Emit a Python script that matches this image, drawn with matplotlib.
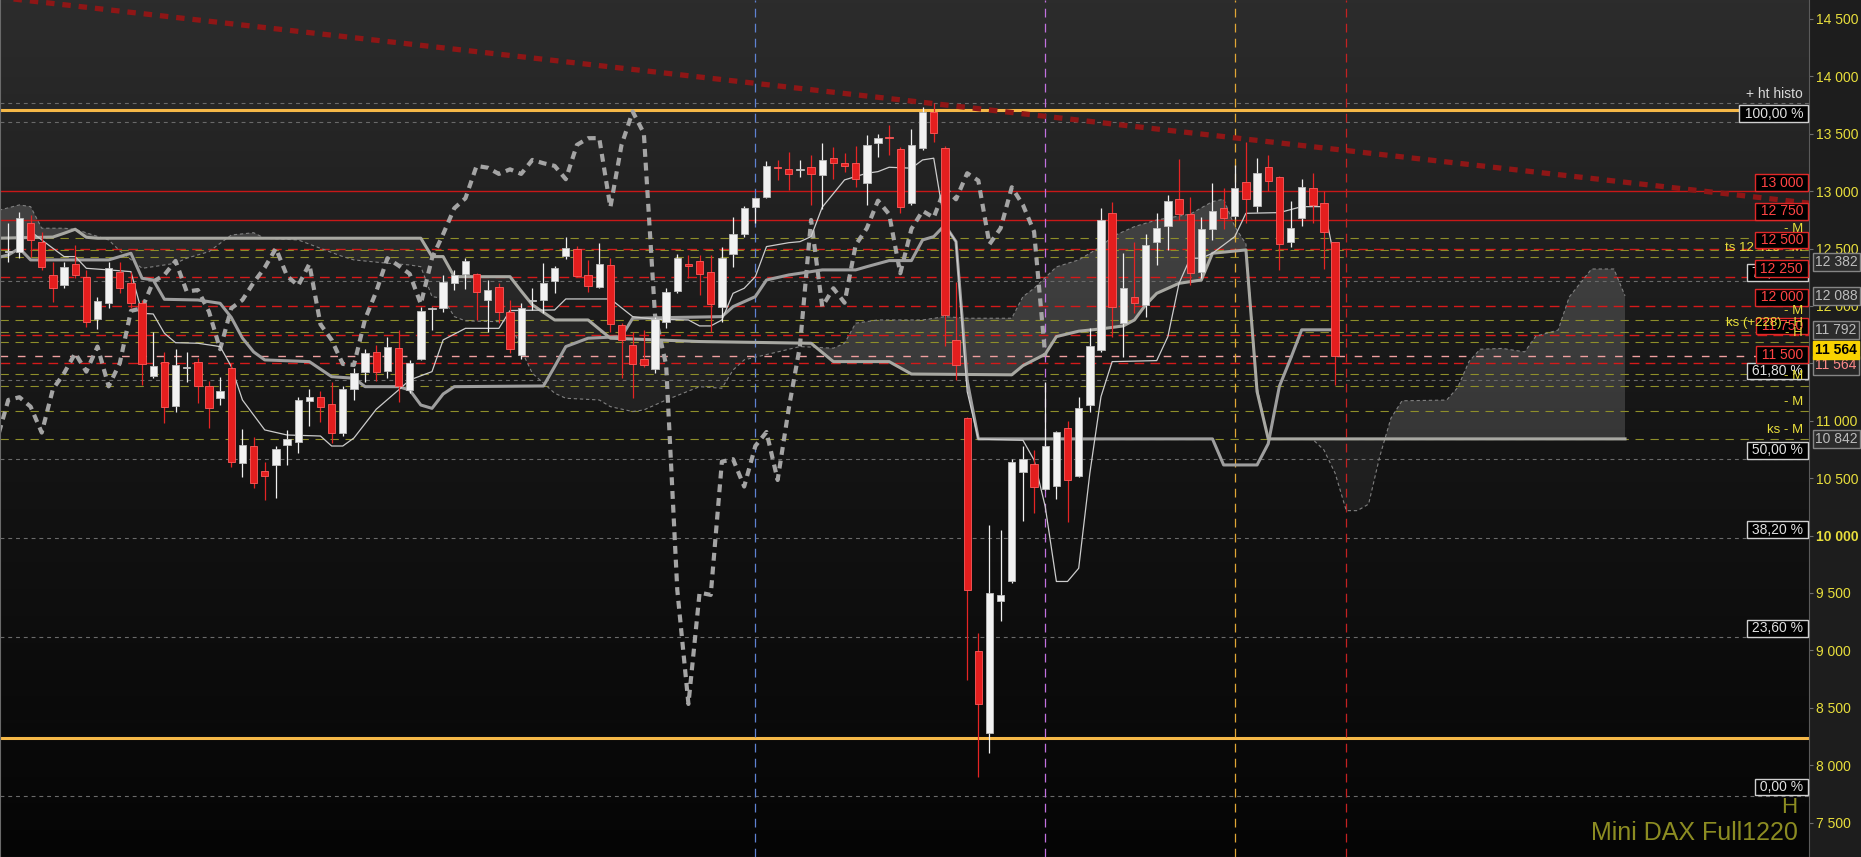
import matplotlib
matplotlib.use("Agg")
import matplotlib.pyplot as plt
import numpy as np
from matplotlib.colors import LinearSegmentedColormap

plt.rcParams["font.family"] = ["Liberation Sans", "DejaVu Sans"]

# weekly candles, index 0 = first week shown
opens = [12470, 12474, 12720, 12560, 12270, 12183, 12365, 12255, 11887, 12023,
         12299, 12197, 12028, 11393, 11515, 11129, 11460, 11510, 11303, 11196,
         11457, 10630, 10780, 10563, 10615, 10789, 10818, 11176, 11205, 11146,
         10897, 11275, 11428, 11602, 11436, 11632, 11268, 11536, 11970, 11980,
         12203, 12279, 12279, 12052, 12168, 11950, 11573, 12040, 12052, 12220,
         12438, 12494, 12270, 12168, 12357, 11834, 11660, 11536, 11449, 11863,
         12130, 12362, 12390, 12299, 11994, 12450, 12627, 12860, 12952, 13214,
         13191, 13180, 13214, 13141, 13292, 13249, 13243, 13069, 13417, 13470,
         13365, 12900, 13374, 13693, 13374, 11704, 11021, 8997, 8278, 9434,
         9604, 10557, 10622, 10403, 10434, 10935, 10519, 11137, 11617, 12807,
         11850, 12075, 12009, 12560, 12700, 12930, 12799, 12296, 12671, 12851,
         12784, 13077, 12871, 13208, 13121, 12554, 12764, 13025, 12894, 12554]
highs = [12720, 12822, 12793, 12647, 12386, 12386, 12531, 12314, 12081, 12386,
         12386, 12299, 12052, 11776, 11602, 11623, 11597, 11544, 11349, 11379,
         11501, 10926, 10856, 10644, 10780, 10920, 11205, 11275, 11263, 11334,
         11300, 11457, 11623, 11660, 11730, 11790, 11530, 11994, 11994, 12270,
         12314, 12420, 12290, 12226, 12197, 12052, 12028, 12154, 12372, 12351,
         12604, 12525, 12401, 12546, 12416, 11850, 11776, 11790, 11907, 12154,
         12450, 12444, 12440, 12444, 12517, 12778, 12870, 12952, 13266, 13272,
         13344, 13272, 13315, 13417, 13388, 13330, 13394, 13490, 13498, 13577,
         13388, 13540, 13736, 13766, 13390, 12212, 11036, 9149, 10092, 10049,
         10665, 10784, 10746, 11340, 10907, 10998, 11210, 11805, 12850, 12909,
         12459, 12560, 12627, 12807, 12967, 13278, 12952, 12772, 13074, 13025,
         13228, 13431, 13287, 13315, 13133, 12917, 13104, 13162, 13005, 12560]
lows = [12380, 12416, 12430, 12314, 12038, 12154, 12241, 11820, 11797, 11980,
        12110, 11980, 11312, 11370, 10978, 11080, 11341, 11152, 10934, 11137,
        10600, 10513, 10412, 10310, 10325, 10615, 10722, 10950, 10992, 10804,
        10863, 11181, 11341, 11350, 11370, 11160, 11240, 11530, 11791, 11950,
        12139, 12150, 11878, 11776, 11850, 11588, 11536, 11965, 11936, 12110,
        12407, 12255, 12125, 12154, 11776, 11370, 11196, 11470, 11413, 11805,
        12110, 12241, 12096, 11776, 11863, 12342, 12600, 12720, 12938, 13098,
        13010, 13120, 12880, 12842, 13104, 13170, 13040, 12880, 13295, 13315,
        12813, 12880, 13359, 13431, 11650, 11355, 8742, 7900, 8103, 9259,
        9590, 10130, 10194, 10395, 10320, 10122, 10513, 11080, 11600, 11733,
        11558, 11936, 11907, 12357, 12488, 12749, 12183, 12241, 12575, 12668,
        12755, 12720, 12822, 13005, 12314, 12511, 12697, 12720, 12320, 11312]
closes = [12480, 12764, 12575, 12342, 12160, 12337, 12270, 11863, 12043, 12328,
          12154, 12028, 11495, 11477, 11123, 11486, 11470, 11306, 11114, 11260,
          10644, 10790, 10461, 10522, 10754, 10841, 11181, 11205, 11123, 10897,
          11275, 11414, 11588, 11428, 11646, 11300, 11501, 11957, 11980, 12212,
          12270, 12392, 12125, 12139, 11950, 11623, 11980, 12052, 12203, 12334,
          12502, 12261, 12177, 12366, 11840, 11704, 11495, 11486, 11885, 12125,
          12416, 12352, 12279, 12017, 12416, 12625, 12851, 12938, 13220, 13204,
          13150, 13190, 13150, 13272, 13243, 13220, 13104, 13403, 13461, 13462,
          12860, 13403, 13693, 13504, 11922, 11486, 9526, 8533, 9503, 9483,
          10644, 10665, 10427, 10780, 10902, 10484, 11108, 11651, 12749, 11994,
          12154, 12028, 12531, 12677, 12917, 12799, 12285, 12671, 12828, 12770,
          13025, 12929, 13156, 13092, 12537, 12677, 13034, 12880, 12647, 11564]

# ichimoku lines as (week index, price)
tenkan_pts = [(2, 12650), (3, 12575), (5, 12430), (6, 12430), (7, 12328), (9, 12314),
              (11, 12299), (12, 11936), (13, 11930), (14, 11762), (15, 11680), (17, 11675),
              (19, 11646), (20, 11472), (21, 11181), (23, 10920), (25, 10876), (28, 10867),
              (29, 10780), (30, 10780), (31, 10850), (33, 11100), (35, 11268), (36, 11355),
              (38, 11428), (39, 11704), (41, 11805), (44, 11805), (45, 11960), (49, 11965),
              (50, 12061), (54, 12061), (56, 11907), (58, 11884), (61, 11878), (62, 11826),
              (63, 11826), (64, 11878), (65, 12110), (66, 12154), (67, 12255), (68, 12517),
              (70, 12551), (71, 12560), (72, 12604), (73, 12860), (75, 13098), (77, 13156),
              (78, 13170), (79, 13208), (81, 13200), (82, 13272), (83, 13287), (84, 12705),
              (85, 12560), (86, 11254), (87, 10840), (91, 10830), (92, 10658), (93, 10252),
              (94, 9600), (95, 9600), (96, 9715), (97, 10542), (98, 11210), (99, 11515),
              (103, 11524), (104, 11733), (105, 12197), (106, 12416), (107, 12416),
              (108, 12459), (110, 12604), (111, 12807), (114, 12813), (116, 12865),
              (118, 12865), (119, 12382)]
kijun_pts = [(-1, 12420), (0, 12444), (1, 12502), (2, 12401), (9, 12401), (11, 12459),
             (12, 12241), (13, 12226), (14, 12058), (17, 12052), (19, 12023), (20, 11900),
             (21, 11720), (22, 11600), (23, 11530), (27, 11515), (29, 11384), (31, 11370),
             (32, 11297), (35, 11297), (36, 11268), (37, 11137), (38, 11108), (39, 11233),
             (40, 11297), (48, 11303), (49, 11472), (50, 11646), (52, 11719), (55, 11733),
             (56, 11893), (64, 11907), (65, 11994), (67, 12081), (68, 12226), (70, 12270),
             (72, 12299), (73, 12314), (76, 12314), (77, 12342), (79, 12395), (81, 12395),
             (82, 12575), (83, 12604), (84, 12705), (85, 12560), (86, 11350), (87, 10842),
             (108, 10842), (109, 10615), (112, 10615), (113, 10800), (114, 11300),
             (115, 11540), (116, 11792), (119, 11792)]
ssb_pts = [(-1, 12590), (4, 12600), (5, 12633), (6, 12668), (7, 12598), (8, 12590),
           (37, 12590), (38, 12430), (39, 12430), (40, 12255), (45, 12255), (46, 12130),
           (47, 12010), (49, 11878), (52, 11878), (54, 11719), (62, 11690), (72, 11675),
           (74, 11515), (79, 11515), (81, 11407), (90, 11400), (91, 11480), (93, 11580),
           (94, 11733), (96, 11780), (98, 11800), (100, 11826), (101, 11878), (102, 12009),
           (103, 12110), (105, 12197), (107, 12226), (108, 12459), (111, 12488),
           (112, 11254), (113, 10842), (145, 10842)]
ssa_pts = [(-1, 12830), (1, 12880), (2, 12865), (3, 12677), (5, 12677), (6, 12668),
           (9, 12575), (10, 12480), (12, 12328), (13, 12342), (15, 12372), (16, 12416),
           (18, 12473), (20, 12618), (22, 12638), (23, 12590), (26, 12575), (28, 12502),
           (30, 12430), (31, 12401), (34, 12372), (36, 12357), (37, 12342), (38, 12081),
           (39, 12067), (40, 11907), (41, 11870), (44, 11863), (45, 11878), (46, 11617),
           (47, 11414), (49, 11240), (50, 11196), (53, 11181), (54, 11123), (56, 11080),
           (57, 11094), (59, 11181), (62, 11297), (64, 11283), (65, 11442), (66, 11530),
           (71, 11646), (74, 11632), (75, 11675), (76, 11850), (78, 11878), (82, 11878),
           (84, 11907), (86, 11893), (90, 11893), (91, 12081), (92, 12154), (94, 12340),
           (96, 12401), (98, 12517), (99, 12604), (101, 12691), (103, 12749), (106, 12800),
           (108, 12909), (109, 12930), (110, 12691), (111, 12540), (112, 11300),
           (113, 10837), (117, 10837), (118, 10745), (119, 10543), (120, 10217),
           (121, 10217), (122, 10274), (123, 10688), (124, 11021), (125, 11174),
           (129, 11180), (130, 11290), (131, 11515), (132, 11623), (134, 11630),
           (136, 11600), (137, 11736), (139, 11790), (140, 12079), (141, 12200),
           (142, 12322), (144, 12322), (145, 12088)]
chikou_shift = 26

trend_pts = [(-1, 14690), (162, 12890)]

red_solid = [13000, 12750]
red_dashed = [12500, 12250, 12000, 11750, 11500]
olive_levels = [12590, 12484, 12430, 11878, 11776, 11686, 11405, 11307, 11083, 10842]
olive_labels = {12590: "- M", 12430: "ts 12 416 - M", 11878: "- M", 11776: "ks (+228) - H",
                11686: "- H", 11307: "- M", 11083: "- M", 10842: "ks - M"}
fib_low, fib_high = 7734, 13600
fib_ratios = [1.0, 0.764, 0.618, 0.5, 0.382, 0.236, 0.0]
fib_labels = ["100,00 %", "76,40 %", "61,80 %", "50,00 %", "38,20 %", "23,60 %", "0,00 %"]
hist_high = 13766
range_high, range_low = 13707, 8234
last_price = 11564
side_values = [12382, 12088, 11792, 10842]
vert_weeks = [67, 93, 110, 120]
vert_colors = ["#5f82d2", "#c272e0", "#e0a636", "#c42222"]
yticks = list(range(7500, 15000, 500))


def fmt(v):
    return f"{v:,.0f}".replace(",", " ")


fig = plt.figure(figsize=(18.61, 8.57), dpi=100, facecolor="#1d1d1d")
ax = fig.add_axes([0, 0, 1809 / 1861, 1])
x_lo, x_hi = -0.744, 161.5
y_lo, y_hi = 7200, 14665

grad = np.linspace(0, 1, 256).reshape(-1, 1)
bg = LinearSegmentedColormap.from_list("bg", ["#050505", "#151515", "#2c2c2c"])
ax.imshow(grad, extent=[x_lo, x_hi, y_lo, y_hi], origin="lower", aspect="auto",
          cmap=bg, zorder=0)

# cloud
ssa = np.array(ssa_pts, float)
ssb = np.array(ssb_pts, float)
grid = np.union1d(ssa[:, 0], ssb[:, 0])
a = np.interp(grid, ssa[:, 0], ssa[:, 1])
b = np.interp(grid, ssb[:, 0], ssb[:, 1])
ax.fill_between(grid, a, b, where=a >= b, interpolate=True, color="white",
                alpha=0.15, lw=0, zorder=1)
ax.fill_between(grid, a, b, where=a < b, interpolate=True, color="white",
                alpha=0.05, lw=0, zorder=1)

# horizontal levels
for lv in red_solid:
    ax.axhline(lv, color="#c81818", lw=1.0, zorder=1.5)
for lv in red_dashed:
    ax.axhline(lv, color="#d41a1a", lw=1.0, dashes=(7, 4.5), zorder=1.5)
for lv in olive_levels:
    ax.axhline(lv, color="#8e8e2a", lw=0.8, dashes=(7.5, 6), zorder=1.5)
fib_levels = [fib_low + r * (fib_high - fib_low) for r in fib_ratios]
for lv in fib_levels + [hist_high]:
    ax.axhline(lv, color="#6a6a6a", lw=0.8, dashes=(3.5, 3.5), zorder=1.5)
ax.axhline(last_price, color="#f0a0a0", lw=1.0, dashes=(5.5, 7), zorder=1.5)
for lv in (range_high, range_low):
    ax.axhline(lv, color="#f5b848", lw=2.2, zorder=1.6)
for wk, col in zip(vert_weeks, vert_colors):
    ax.axvline(wk, color=col, lw=0.9, dashes=(7, 5), zorder=1.6)

# ichimoku lines
sa = np.array(ssa_pts)
ax.plot(sa[:, 0], sa[:, 1], color="#808080", lw=0.8, dashes=(3, 2.5), zorder=2)
idx = np.arange(len(closes))
ax.plot(idx - chikou_shift, closes, color="#a4a4a4", lw=3.0, dashes=(1.9, 1.4),
        zorder=2.2)
kj = np.array(kijun_pts)
ax.plot(kj[:, 0], kj[:, 1], color="#9e9e9e", lw=2.2, zorder=2.4)
ax.plot(ssb[:, 0], ssb[:, 1], color="#a8a8a2", lw=2.2, zorder=2.4)
tk = np.array(tenkan_pts)
ax.plot(tk[:, 0], tk[:, 1], color="#cccccc", lw=0.9, zorder=2.5)
tr = np.array(trend_pts)
ax.plot(tr[:, 0], tr[:, 1], color="#8e1616", lw=3.8, dashes=(1.6, 1.5), zorder=2.6)

# candles
o, h, l, c = map(np.array, (opens, highs, lows, closes))
up = c >= o
body_lo = np.minimum(o, c)
body_h = np.maximum(np.abs(c - o), 8)
ax.vlines(idx[up], l[up], h[up], color="#f0f0f0", lw=0.9, zorder=4)
ax.vlines(idx[~up], l[~up], h[~up], color="#e52424", lw=0.9, zorder=4)
ax.bar(idx[up], body_h[up], 0.66, body_lo[up], color="#f2f2f2", edgecolor="#bdbdbd",
       lw=0.6, zorder=5)
ax.bar(idx[~up], body_h[~up], 0.66, body_lo[~up], color="#e41e1e", edgecolor="#ff5c5c",
       lw=0.6, zorder=5)

ax.set_xlim(x_lo, x_hi)
ax.set_ylim(y_lo, y_hi)
ax.set_xticks([])

# right axis
yellow = "#e8de3c"
ax.yaxis.tick_right()
ax.set_yticks(yticks, labels=[fmt(v) for v in yticks])
ax.tick_params(axis="y", labelcolor=yellow, color="#707070", length=3, width=0.8,
               pad=2, labelsize=10)
for lbl in ax.get_yticklabels():
    if lbl.get_text() == "10 000":
        lbl.set_fontweight("bold")
ax.spines["top"].set_visible(False)
ax.spines["right"].set_color("#5a5a5a")
ax.spines["left"].set_color("#6a6a6a")
ax.spines["bottom"].set_color("#4a4a4a")

ytr = ax.get_yaxis_transform()

# labels above level lines
ax.annotate("+ ht histo", xy=(0.9967, hist_high), xycoords=ytr, xytext=(0, 6.5),
            textcoords="offset points", ha="right", va="center", color="#d8d8d8",
            fontsize=10, zorder=8)
for lv, txt in olive_labels.items():
    z = 6 if txt.startswith("ts") else 9
    ax.annotate(txt, xy=(0.9967, lv), xycoords=ytr, xytext=(0, 6.5),
                textcoords="offset points", ha="right", va="center", color=yellow,
                fontsize=9.5, zorder=z)
for lv in red_solid + red_dashed:
    ax.annotate(f" {fmt(lv)} ", xy=(1.0, lv), xycoords=ytr, xytext=(-1.5, 6.2),
                textcoords="offset points", ha="right", va="center", color="#ff4444",
                fontsize=10, zorder=7,
                bbox=dict(boxstyle="square,pad=0.1", fc="black", ec="#e02828", lw=1))
for lv, txt in zip(fib_levels, fib_labels):
    ax.annotate(f" {txt} ", xy=(1.0, lv), xycoords=ytr, xytext=(-1.5, 6.2),
                textcoords="offset points", ha="right", va="center", color="#e0e0e0",
                fontsize=10, zorder=6.5,
                bbox=dict(boxstyle="square,pad=0.1", fc="black", ec="#d0d0d0", lw=1))
for v in side_values:
    ax.annotate(fmt(v), xy=(1.0035, v), xycoords=ytr, ha="left", va="center",
                color="#bcbcbc", fontsize=10, zorder=10, annotation_clip=False,
                bbox=dict(boxstyle="square,pad=0.15", fc="#2c2c2c", ec="#858585", lw=1))
ax.annotate(fmt(last_price), xy=(1.0035, last_price), xycoords=ytr,
            xytext=(0, 4.3), textcoords="offset points", ha="left", va="center",
            color="black", fontsize=10, fontweight="bold", zorder=11,
            annotation_clip=False,
            bbox=dict(boxstyle="square,pad=0.15", fc="#f8d200", ec="#f8d200", lw=1))
ax.annotate(fmt(last_price), xy=(1.0035, last_price), xycoords=ytr,
            xytext=(0, -6.8), textcoords="offset points", ha="left", va="center",
            color="#ff8a8a", fontsize=10, zorder=10, annotation_clip=False,
            bbox=dict(boxstyle="square,pad=0.15", fc="#262626", ec="#858585", lw=1))

fig.text(1798 / 1861, 17 / 857, "Mini DAX Full1220", ha="right", va="baseline",
         color="#8c8c22", fontsize=18,
         family=["Liberation Sans Narrow", "Liberation Sans", "DejaVu Sans"])
fig.text(1797 / 1861, 44 / 857, "H", ha="right", va="baseline", color="#8c8c22",
         fontsize=16)

fig.savefig("out.png", dpi=100, facecolor=fig.get_facecolor())
